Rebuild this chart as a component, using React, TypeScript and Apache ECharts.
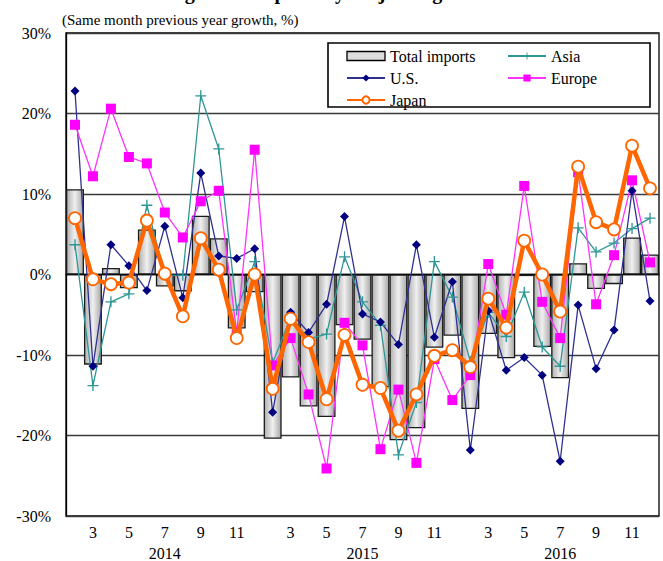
import React, { useEffect, useRef } from "react";
import * as echarts from "echarts";

// China's imports by region, same month previous year growth (%).
// January and February are reported together, so each year has 11 slots.
const years = ["2014", "2015", "2016"];
const monthSlots = ["1-2", "3", "4", "5", "6", "7", "8", "9", "10", "11", "12"];
const labeledMonths = ["3", "5", "7", "9", "11"];
const yearLabelMonth = "7";

const totalImports = [
  10.6, -11.2, 0.8, -1.7, 5.6, -1.5, -2.1, 7.3, 4.5, -6.7, -2.2,
  -20.4, -12.8, -16.4, -17.7, -6.3, -8.1, -14.0, -20.6, -19.1, -9.1, -7.6,
  -16.7, -7.4, -10.4, -0.2, -9.0, -12.9, 1.4, -1.8, -1.2, 4.6, 2.5,
];
const asia = [
  3.7, -13.8, -3.4, -2.4, 8.6, -0.1, -0.1, 22.2, 15.6, -4.4, 1.6,
  -11.0, -5.3, -8.0, -7.4, 2.2, -3.4, -6.3, -22.4, -15.9, 1.6, -2.8,
  -10.8, -4.7, -7.7, -2.2, -9.0, -11.4, 5.8, 2.8, 3.9, 5.7, 7.0,
];
const us = [
  22.8, -11.4, 3.7, 1.1, -2.0, 6.0, -2.9, 12.6, 2.3, 2.0, 3.2,
  -17.1, -4.7, -7.2, -3.7, 7.2, -4.9, -5.9, -8.7, 3.7, -7.8, -0.9,
  -21.8, -4.5, -11.9, -10.3, -12.5, -23.2, -3.8, -11.7, -6.9, 10.4, -3.3,
];
const europe = [
  18.6, 12.2, 20.6, 14.6, 13.8, 7.7, 4.6, 9.1, 10.4, -7.2, 15.5,
  -11.3, -7.9, -14.9, -24.1, -6.0, -8.8, -21.7, -14.3, -23.4, -10.5, -15.6,
  -12.5, 1.3, -5.0, 11.0, -3.4, -7.9, 12.7, -3.7, 2.4, 11.7, 1.5,
];
const japan = [
  7.0, -0.6, -1.2, -1.0, 6.7, 0.1, -5.2, 4.5, 0.6, -7.9, 0.0,
  -14.2, -5.5, -8.4, -15.5, -7.5, -13.7, -14.1, -19.4, -14.9, -10.1, -9.4,
  -11.5, -3.0, -6.6, 4.2, 0.0, -4.6, 13.4, 6.5, 5.6, 16.0, 10.7,
];

const yMin = -30;
const yMax = 30;
const yStep = 10;

const categories = years.flatMap((y) => monthSlots.map((m) => `${y}-${m}`));

const SERIF = '"Liberation Serif", "DejaVu Serif", serif';
const PLUS =
  "path://M4.4,0h1.2v4.4h4.4v1.2h-4.4v4.4h-1.2v-4.4h-4.4v-1.2h4.4z";

export default function App() {
  const ref = useRef<HTMLDivElement>(null);

  useEffect(() => {
    if (!ref.current) return;
    const chart = echarts.init(ref.current, null, { renderer: "svg" });

    const barFill = new echarts.graphic.LinearGradient(0, 0, 1, 0, [
      { offset: 0, color: "#b0b0b0" },
      { offset: 0.5, color: "#f0f0f0" },
      { offset: 1, color: "#a8a8a8" },
    ]);

    const legendText = { fontFamily: SERIF, fontSize: 16, color: "#000", lineHeight: 14 };

    chart.setOption({
      animation: false,
      backgroundColor: "#fff",
      textStyle: { fontFamily: SERIF },
      grid: {
        left: 66,
        right: 4,
        top: 33,
        bottom: 43,
        show: true,
        borderColor: "#000",
        borderWidth: 1.3,
        containLabel: false,
      },
      graphic: [
        {
          type: "text",
          x: 318,
          y: 2,
          style: {
            text: "Figure 2: Imports by Major Region",
            align: "center",
            verticalAlign: "bottom",
            font: `bold 20px ${SERIF}`,
            fill: "#000",
          },
        },
        {
          type: "rect",
          z: 3,
          shape: { x: 328, y: 43, width: 322, height: 64 },
          style: { fill: "#fff", stroke: "#000", lineWidth: 1.6 },
        },
      ],
      legend: [
        {
          z: 5,
          orient: "vertical",
          left: 346,
          top: 48,
          padding: 0,
          itemWidth: 38,
          itemHeight: 9,
          itemGap: 6,
          textStyle: legendText,
          data: [
            {
              name: "Total imports",
              icon: "rect",
              itemStyle: { color: "#dcdcdc", borderColor: "#000", borderWidth: 1.3 },
            },
            "U.S.",
            "Japan",
          ],
        },
        {
          z: 5,
          orient: "vertical",
          left: 507,
          top: 48,
          padding: 0,
          itemWidth: 38,
          itemHeight: 9,
          itemGap: 6,
          textStyle: legendText,
          data: ["Asia", "Europe"],
        },
      ],
      xAxis: [
        {
          type: "category",
          data: categories,
          boundaryGap: true,
          axisLine: { show: true, lineStyle: { color: "#000", width: 1.3 } },
          axisTick: { show: false },
          axisLabel: {
            interval: 0,
            margin: 8,
            fontFamily: SERIF,
            fontSize: 16,
            color: "#000",
            formatter: (v: string) => {
              const m = v.split("-").slice(1).join("-");
              return labeledMonths.includes(m) ? m : "";
            },
          },
        },
        {
          type: "category",
          data: categories,
          position: "bottom",
          offset: 21,
          boundaryGap: true,
          axisLine: { show: false },
          axisTick: { show: false },
          splitLine: { show: false },
          axisLabel: {
            interval: 0,
            margin: 8,
            fontFamily: SERIF,
            fontSize: 16,
            color: "#000",
            formatter: (v: string) => {
              const [y, ...rest] = v.split("-");
              return rest.join("-") === yearLabelMonth ? y : "";
            },
          },
        },
      ],
      yAxis: {
        type: "value",
        min: yMin,
        max: yMax,
        interval: yStep,
        name: "(Same month previous year growth, %)",
        nameLocation: "end",
        nameGap: 6,
        nameTextStyle: {
          fontFamily: SERIF,
          fontSize: 15,
          color: "#000",
          align: "left",
          padding: [0, 0, 0, -4],
        },
        axisLine: { show: true, lineStyle: { color: "#000", width: 1.3 } },
        axisTick: { show: false },
        axisLabel: {
          margin: 15,
          fontFamily: SERIF,
          fontSize: 16,
          color: "#000",
          formatter: "{value}%",
        },
        splitLine: { show: true, lineStyle: { color: "#3a3a3a", width: 1.3 } },
      },
      series: [
        {
          name: "Total imports",
          type: "bar",
          data: totalImports,
          barCategoryGap: "0%",
          barWidth: "100%",
          itemStyle: { color: barFill, borderColor: "#1a1a1a", borderWidth: 1.3 },
          z: 1,
        },
        {
          name: "Asia",
          type: "line",
          data: asia,
          symbol: PLUS,
          symbolSize: 11,
          lineStyle: { color: "#2e9696", width: 1.3 },
          itemStyle: { color: "#2e9696" },
          z: 3,
        },
        {
          name: "U.S.",
          type: "line",
          data: us,
          symbol: "diamond",
          symbolSize: 9,
          lineStyle: { color: "#303090", width: 1.3 },
          itemStyle: { color: "#000080" },
          z: 3,
        },
        {
          name: "Europe",
          type: "line",
          data: europe,
          symbol: "rect",
          symbolSize: 10,
          lineStyle: { color: "#ff33ff", width: 1.3 },
          itemStyle: { color: "#ff00ff" },
          z: 3,
        },
        {
          name: "Japan",
          type: "line",
          data: japan,
          symbol: "circle",
          symbolSize: 12,
          showAllSymbol: true,
          lineStyle: { color: "#ff6600", width: 4.5 },
          itemStyle: { color: "#fff", borderColor: "#ff6600", borderWidth: 1.8 },
          z: 4,
        },
      ],
    });

    return () => chart.dispose();
  }, []);

  return (
    <div
      ref={ref}
      style={{ position: "absolute", left: 0, top: 0, width: 663, height: 561 }}
    />
  );
}
